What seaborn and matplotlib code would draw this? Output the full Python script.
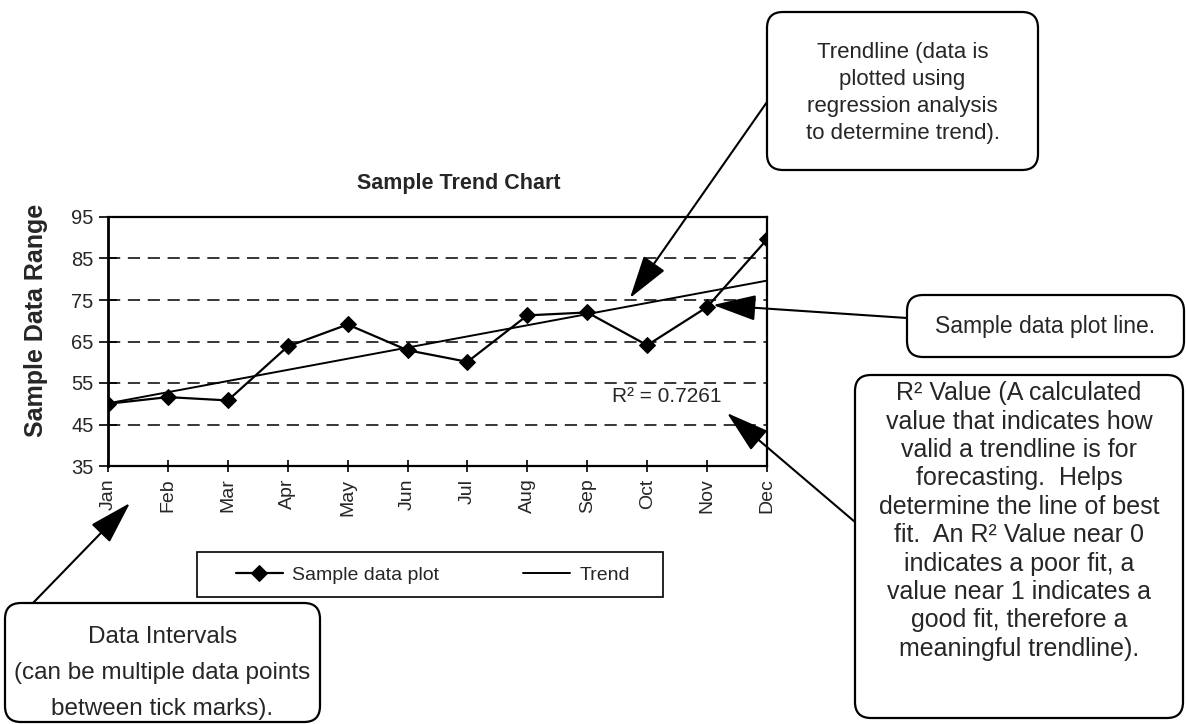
import numpy as np
import matplotlib
matplotlib.use("Agg")
import matplotlib.pyplot as plt
from matplotlib.patches import FancyBboxPatch, Rectangle
import seaborn as sns

# values
months = ['Jan', 'Feb', 'Mar', 'Apr', 'May', 'Jun',
          'Jul', 'Aug', 'Sep', 'Oct', 'Nov', 'Dec']
sample_values = [50.0, 51.6, 50.8, 63.8, 69.1, 62.9,
                 60.1, 71.3, 72.0, 64.1, 73.3, 89.6]
y_ticks = [35, 45, 55, 65, 75, 85, 95]
r_squared = 0.7261

W, H = 1186, 724

sns.set_style("white")
plt.rcParams['font.family'] = ['Liberation Sans', 'DejaVu Sans']

fig = plt.figure(figsize=(W / 100, H / 100), dpi=100)

# main chart area (pixel box 108..767 x 217..466)
ax = fig.add_axes([108 / W, 1 - 466 / H, 659 / W, 249 / H])
x_pos = np.arange(len(months))

sns.lineplot(x=x_pos, y=sample_values, ax=ax, color='black', lw=1.6,
             marker='D', markersize=8, markeredgecolor='black',
             label='Sample data plot')
sns.regplot(x=x_pos, y=sample_values, ax=ax, scatter=False, ci=None,
            truncate=True, color='black', label='Trend',
            line_kws={'lw': 1.4})
if ax.get_legend() is not None:
    ax.get_legend().remove()

ax.set_xlim(0, len(months) - 1)
ax.set_ylim(y_ticks[0], y_ticks[-1])
ax.set_yticks(y_ticks)
ax.set_xticks(x_pos)
ax.set_xticklabels(months, rotation=90, fontsize=14)
ax.tick_params(axis='y', labelsize=14.5, direction='inout', length=13,
               width=1.2, pad=4, left=True, color='black')
ax.tick_params(axis='x', direction='inout', length=8, width=1.2, pad=5,
               bottom=True, color='black')
ax.set_xlabel('')
ax.set_ylabel('')
ax.yaxis.grid(True, color='black', lw=1.1, linestyle=(0, (8, 5)))
ax.xaxis.grid(False)
for side, sp in ax.spines.items():
    sp.set_visible(True)
    sp.set_color('black')
    sp.set_linewidth(2.0 if side == 'left' else 1.6)

# legend without frame, frame drawn separately
handles, labels = ax.get_legend_handles_labels()
fig.legend(handles, labels, loc='center left',
           bbox_to_anchor=(236 / W, 1 - 575 / H), ncol=2, frameon=False,
           fontsize=14, handlelength=2.4, handletextpad=0.5,
           columnspacing=4.3, borderpad=0, borderaxespad=0)

# overlay in pixel coordinates for the notes
ov = fig.add_axes([0, 0, 1, 1], zorder=10)
ov.set_xlim(0, W)
ov.set_ylim(H, 0)
ov.axis('off')
ov.patch.set_alpha(0)

ov.add_patch(Rectangle((197, 552), 466, 45, fill=False, ec='black', lw=1.2))

ov.text(459, 184, 'Sample Trend Chart', ha='center', va='center',
        fontsize=15.5, fontweight='bold')
ov.text(36, 320, 'Sample Data Range', ha='center', va='center',
        rotation=90, fontsize=18, fontweight='bold')
ov.text(612, 397, 'R² = {:.4f}'.format(r_squared), ha='left', va='center',
        fontsize=15)


def note(x0, y0, x1, y1, txt, size, spacing, ty):
    ov.add_patch(FancyBboxPatch((x0, y0), x1 - x0, y1 - y0,
                                boxstyle='round,pad=0,rounding_size=16',
                                fc='white', ec='black', lw=1.6))
    ov.text((x0 + x1) / 2, ty, txt, ha='center', va='center',
            fontsize=size, linespacing=spacing, multialignment='center')


def arrow(start, tip):
    ov.annotate('', xy=tip, xytext=start,
                arrowprops=dict(arrowstyle='-|>,head_length=1.5,head_width=0.45',
                                mutation_scale=18, color='black', lw=1.5,
                                shrinkA=0, shrinkB=0))


note(767, 12, 1038, 170,
     'Trendline (data is\nplotted using\nregression analysis\nto determine trend).',
     16, 1.36, 93)
note(907, 295, 1184, 357, 'Sample data plot line.', 16.5, 1.2, 327)
note(855, 375, 1183, 718,
     'R² Value (A calculated\nvalue that indicates how\nvalid a trendline is for\n'
     'forecasting.  Helps\ndetermine the line of best\nfit.  An R² Value near 0\n'
     'indicates a poor fit, a\nvalue near 1 indicates a\ngood fit, therefore a\n'
     'meaningful trendline).',
     18, 1.23, 521)
note(5, 603, 320, 722,
     'Data Intervals\n(can be multiple data points\nbetween tick marks).',
     17.5, 1.8, 673)

arrow((767, 102), (630, 298))
arrow((907, 318), (713, 305))
arrow((855, 522), (727, 413))
arrow((33, 603), (130, 503))

plt.savefig('out.png', dpi=100)
